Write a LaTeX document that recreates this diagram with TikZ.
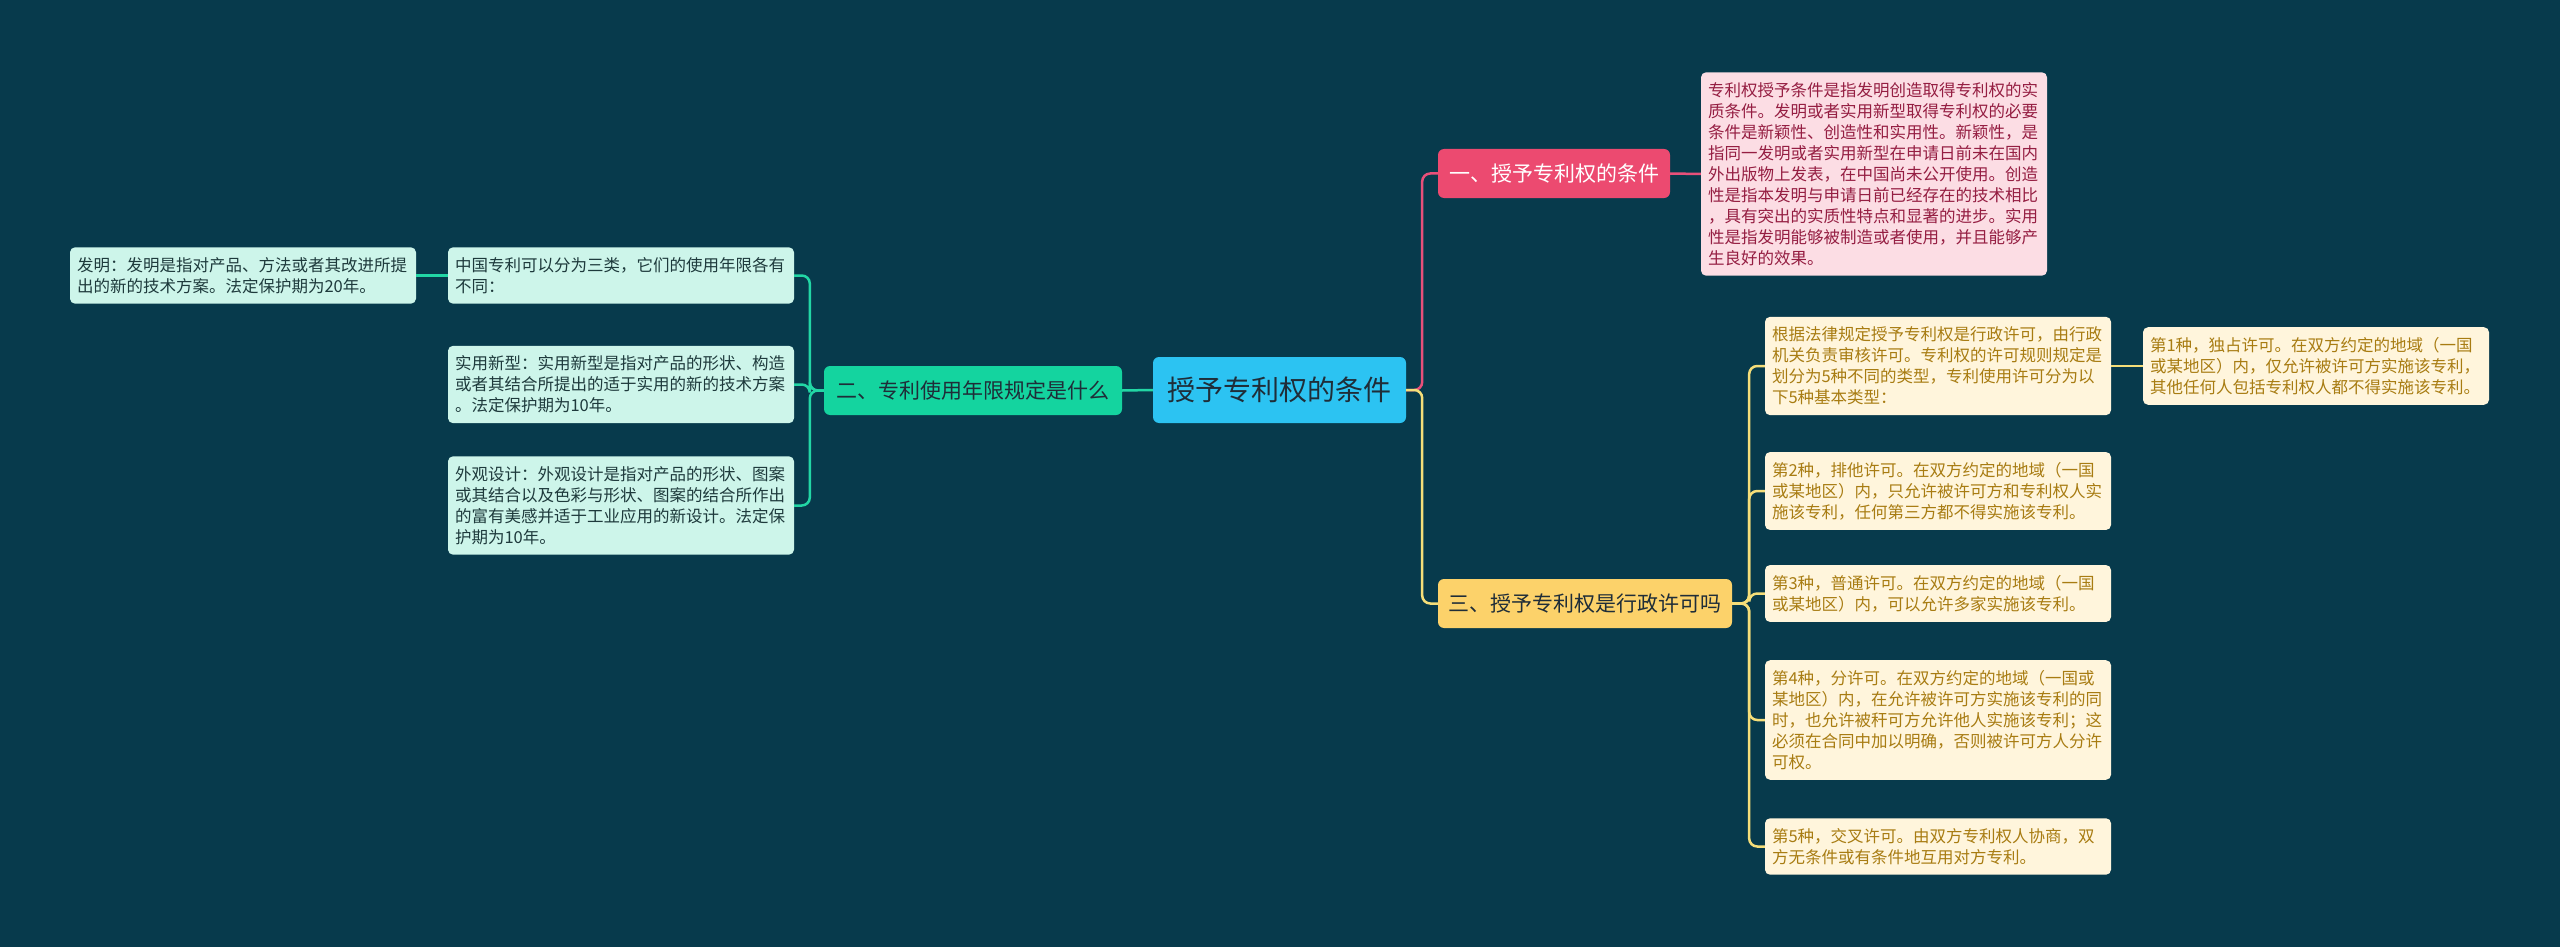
\documentclass[tikz,border=0pt]{standalone}
\usepackage{fontspec}
\usepackage{xcolor}
\newfontfamily\cjk{Noto Sans CJK SC}
\definecolor{bgblue}{HTML}{073A4C}
\definecolor{rootfill}{HTML}{2CC3F2}
\definecolor{rosefill}{HTML}{EC4A70}
\definecolor{roseleaf}{HTML}{FCDDE4}
\definecolor{rosetext}{HTML}{951E42}
\definecolor{rosewire}{HTML}{E8507A}
\definecolor{mintfill}{HTML}{14D49F}
\definecolor{mintleaf}{HTML}{CDF5EA}
\definecolor{minttext}{HTML}{1E3A3C}
\definecolor{mintwire}{HTML}{22D6A5}
\definecolor{sandfill}{HTML}{FCD26A}
\definecolor{sandleaf}{HTML}{FFF5DC}
\definecolor{sandtext}{HTML}{A87C12}
\definecolor{sandwire}{HTML}{F5DE79}
\definecolor{inktext}{HTML}{1F2D38}
\tikzset{
  rootbox/.style={fill=rootfill, rounded corners=6pt, text=inktext, minimum width=253pt, minimum height=66pt, font=\cjk\fontsize{28}{32}\selectfont},
  topicbox/.style={rounded corners=6pt, minimum height=49pt, font=\cjk\fontsize{21}{25}\selectfont},
  leafbox/.style={rounded corners=5pt, align=left, text width=332pt, inner xsep=7pt, inner ysep=10pt, font=\cjk\fontsize{16.5}{21}\selectfont},
  roseleafbox/.style={leafbox, fill=roseleaf, text=rosetext},
  mintleafbox/.style={leafbox, fill=mintleaf, text=minttext},
  sandleafbox/.style={leafbox, fill=sandleaf, text=sandtext},
  wire/.style={line width=2.5pt, rounded corners=8pt}
}
\begin{document}
\begin{tikzpicture}[x=1pt, y=-1pt]
  \fill[bgblue] (0,0) rectangle (2560,947);
  \useasboundingbox (0,0) rectangle (2560,947);
  \node[rootbox] (root) at (1279.5,390) {授予专利权的条件};
  \node[topicbox, fill=rosefill, text=white, minimum width=232pt] (rose) at (1554,173.5) {一、授予专利权的条件};
  \node[topicbox, fill=mintfill, text=inktext, minimum width=298pt] (mint) at (973,390.5) {二、专利使用年限规定是什么};
  \node[topicbox, fill=sandfill, text=inktext, minimum width=294pt] (sand) at (1585,603.5) {三、授予专利权是行政许可吗};
  \node[roseleafbox] (r1) at (1874,174) {专利权授予条件是指发明创造取得专利权的实\\质条件。发明或者实用新型取得专利权的必要\\条件是新颖性、创造性和实用性。新颖性，是\\指同一发明或者实用新型在申请日前未在国内\\外出版物上发表，在中国尚未公开使用。创造\\性是指本发明与申请日前已经存在的技术相比\\，具有突出的实质性特点和显著的进步。实用\\性是指发明能够被制造或者使用，并且能够产\\生良好的效果。};
  \node[mintleafbox] (m0) at (243,275.5) {发明：发明是指对产品、方法或者其改进所提\\出的新的技术方案。法定保护期为20年。};
  \node[mintleafbox] (m1) at (621,275.5) {中国专利可以分为三类，它们的使用年限各有\\不同：};
  \node[mintleafbox] (m2) at (621,384.5) {实用新型：实用新型是指对产品的形状、构造\\或者其结合所提出的适于实用的新的技术方案\\。法定保护期为10年。};
  \node[mintleafbox] (m3) at (621,505.5) {外观设计：外观设计是指对产品的形状、图案\\或其结合以及色彩与形状、图案的结合所作出\\的富有美感并适于工业应用的新设计。法定保\\护期为10年。};
  \node[sandleafbox] (s1) at (1938,366) {根据法律规定授予专利权是行政许可，由行政\\机关负责审核许可。专利权的许可规则规定是\\划分为5种不同的类型，专利使用许可分为以\\下5种基本类型：};
  \node[sandleafbox] (s1a) at (2316,366) {第1种，独占许可。在双方约定的地域（一国\\或某地区）内，仅允许被许可方实施该专利，\\其他任何人包括专利权人都不得实施该专利。};
  \node[sandleafbox] (s2) at (1938,491) {第2种，排他许可。在双方约定的地域（一国\\或某地区）内，只允许被许可方和专利权人实\\施该专利，任何第三方都不得实施该专利。};
  \node[sandleafbox] (s3) at (1938,593.5) {第3种，普通许可。在双方约定的地域（一国\\或某地区）内，可以允许多家实施该专利。};
  \node[sandleafbox] (s4) at (1938,720) {第4种，分许可。在双方约定的地域（一国或\\某地区）内，在允许被许可方实施该专利的同\\时，也允许被秆可方允许他人实施该专利；这\\必须在合同中加以明确，否则被许可方人分许\\可权。};
  \node[sandleafbox] (s5) at (1938,846.5) {第5种，交叉许可。由双方专利权人协商，双\\方无条件或有条件地互用对方专利。};
  \draw[wire, rosewire] (root.east) -- ++(16,0) |- (rose.west);
  \draw[wire, sandwire] (root.east) -- ++(16,0) |- (sand.west);
  \draw[wire, mintwire] (root.west) -- (mint.east);
  \draw[wire, rosewire] (rose.east) -- (r1.west);
  \foreach \leaf in {m1,m2,m3}
    \draw[wire, mintwire] (mint.west) -- ++(-14,0) |- (\leaf.east);
  \draw[wire, mintwire] (m1.west) -- (m0.east);
  \foreach \leaf in {s1,s2,s3,s4,s5}
    \draw[wire, sandwire] (sand.east) -- ++(17,0) |- (\leaf.west);
  \draw[wire, sandwire] (s1.east) -- (s1a.west);
\end{tikzpicture}
\end{document}
